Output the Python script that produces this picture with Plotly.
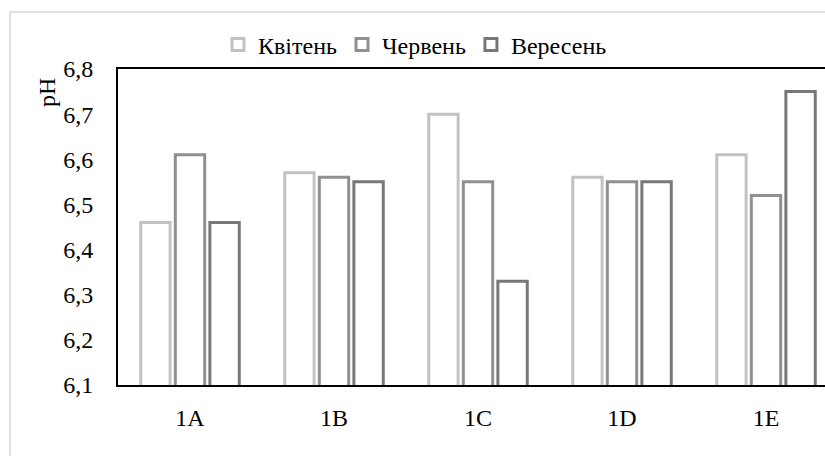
import plotly.graph_objects as go

# Sampling sites and monthly pH readings
sites = ["1A", "1B", "1C", "1D", "1E"]
months = ["Квітень", "Червень", "Вересень"]
ph_april = [6.46, 6.57, 6.70, 6.56, 6.61]
ph_june = [6.61, 6.56, 6.55, 6.55, 6.52]
ph_september = [6.46, 6.55, 6.33, 6.55, 6.75]
y_ticks = [6.1, 6.2, 6.3, 6.4, 6.5, 6.6, 6.7, 6.8]

series = [ph_april, ph_june, ph_september]
colors = ["#c2c2c2", "#909090", "#777777"]

FONT = "Liberation Serif"
FS = 24

W, H = 825, 456
L, R, T, B = 118, 0, 69, 71
plot_w = W - L - R
plot_h = H - T - B

fig = go.Figure()
for name, vals, col in zip(months, series, colors):
    fig.add_trace(go.Bar(
        x=sites, y=vals, name=name,
        marker=dict(color="white", line=dict(color=col, width=3)),
    ))

# category slot width 144 px, first group centred at x=190
slot = 144
x_right = plot_w / slot - 0.5

# light gray outer frame of the chart object
fx0 = (10 - L) / plot_w
fy1 = 1 + (T - 12) / plot_h
fig.add_shape(type="rect", xref="paper", yref="paper",
              x0=fx0, x1=1.2, y0=-0.6, y1=fy1,
              line=dict(color="#d9d9d9", width=1.5), fillcolor="rgba(0,0,0,0)",
              layer="below")

# rotated axis title near the top of the value axis
fig.add_annotation(text="pH", xref="paper", yref="paper",
                   x=(47 - L) / plot_w, y=1 - (93 - T) / plot_h,
                   textangle=-90, showarrow=False,
                   font=dict(family=FONT, size=FS, color="#000000"),
                   xanchor="center", yanchor="middle")

fig.update_layout(
    width=W, height=H,
    margin=dict(l=L, r=R, t=T, b=B, pad=0),
    paper_bgcolor="white", plot_bgcolor="white",
    separators=", ",
    barmode="group", bargap=0.28, bargroupgap=0.15,
    font=dict(family=FONT, size=FS, color="#000000"),
    legend=dict(orientation="h", x=(218 - L) / plot_w, xanchor="left",
                y=1 + (T - 45) / plot_h, yanchor="middle",
                font=dict(family=FONT, size=FS), bgcolor="rgba(0,0,0,0)",
                traceorder="normal", itemwidth=30),
    xaxis=dict(range=[-0.5, x_right], showline=True, linecolor="black",
               linewidth=2, mirror=True, showgrid=False, ticks="",
               ticklabelstandoff=10, tickfont=dict(family=FONT, size=FS)),
    yaxis=dict(range=[6.1, 6.8], tickvals=y_ticks, tickformat=".1f",
               showline=True, linecolor="black", linewidth=2,
               showgrid=False, zeroline=False, ticks="",
               ticklabelstandoff=18, tickfont=dict(family=FONT, size=FS)),
)

fig.write_html("out.html")
